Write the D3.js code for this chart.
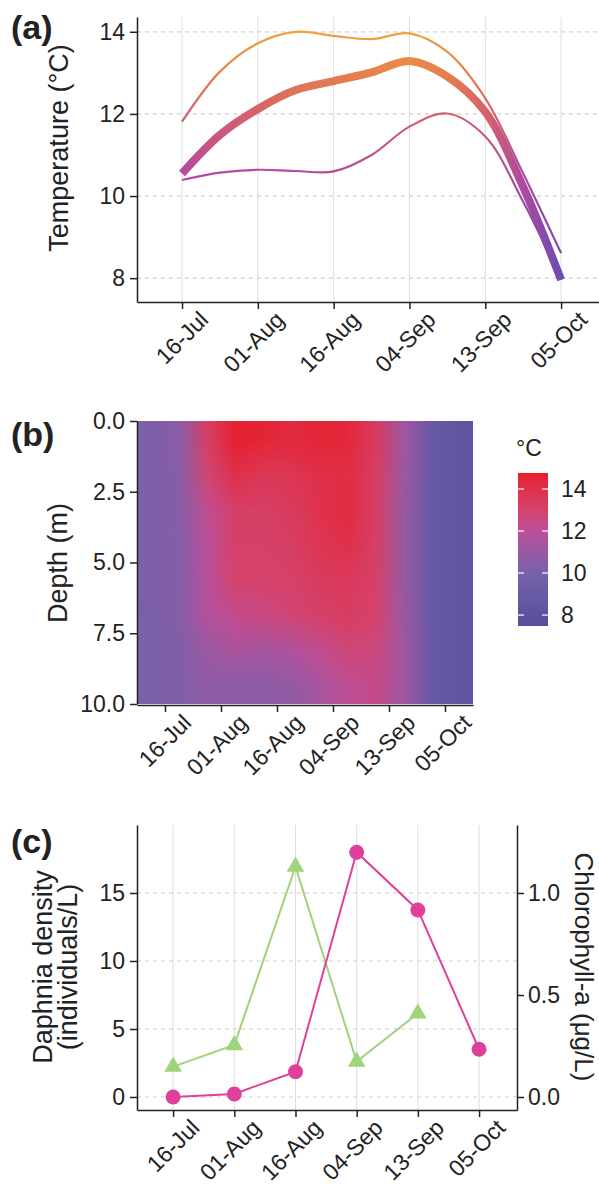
<!DOCTYPE html>
<html>
<head>
<meta charset="utf-8">
<script src="https://cdn.jsdelivr.net/npm/d3@7"></script>
<style>
  body { margin: 0; background: #fff; }
  svg text { font-family: "Liberation Sans", Arial, Helvetica, sans-serif; fill: #222; }
</style>
</head>
<body>
<svg id="chart" width="599" height="1197"></svg>
<script>
// sampling dates (shown as evenly spaced categories)
const dates = ['16-Jul', '01-Aug', '16-Aug', '04-Sep', '13-Sep', '05-Oct'];

// (a) smoothed temperature curves, read every half interval between dates
const tempPos = [0, 0.5, 1, 1.5, 2, 2.5, 3, 3.5, 4, 4.5, 5];
const tempSurface = [11.81, 13.03, 13.72, 14.0, 13.9, 13.82, 13.96, 13.51, 12.38, 10.55, 8.61];
const tempMean = [10.55, 11.49, 12.12, 12.58, 12.8, 13.01, 13.29, 12.91, 12.05, 10.22, 7.96];
const tempBottom = [10.39, 10.57, 10.64, 10.61, 10.6, 11.0, 11.69, 12.01, 11.45, 9.86, 7.96];
const tempTicks = [8, 10, 12, 14];

// (b) depth x date temperature grid (cell centres)
const heatCols = [-0.25, 0.25, 0.75, 1.25, 1.75, 2.25, 2.75, 3.25, 3.75, 4.25, 4.75, 5.25];
const heatDepths = [0.625, 1.875, 3.125, 4.375, 5.625, 6.875, 8.125, 9.375];
const heatValues = [
  [10.2, 10.6, 13.2, 14.7, 14.5, 14.3, 14.5, 14.4, 13.4, 11.2, 8.8, 8.4],
  [10.2, 10.5, 12.8, 14.0, 13.6, 13.7, 14.0, 14.1, 13.3, 11.1, 8.8, 8.4],
  [10.2, 10.5, 12.2, 13.2, 13.2, 13.4, 13.9, 14.2, 13.2, 11.0, 8.7, 8.4],
  [10.2, 10.4, 12.0, 13.1, 13.1, 13.2, 13.7, 14.0, 13.2, 11.0, 8.7, 8.4],
  [10.2, 10.4, 11.9, 13.0, 13.0, 13.1, 13.4, 13.5, 13.1, 11.0, 8.7, 8.4],
  [10.1, 10.4, 11.8, 12.3, 12.5, 12.8, 13.1, 13.3, 13.0, 11.1, 8.7, 8.4],
  [10.1, 10.3, 11.0, 11.5, 11.3, 11.6, 12.2, 12.7, 12.6, 11.2, 8.8, 8.4],
  [10.1, 10.3, 10.7, 10.6, 10.7, 10.8, 11.4, 12.1, 12.4, 11.2, 8.8, 8.4]
];
const depthTicks = [0, 2.5, 5, 7.5, 10];
const legendTicks = [8, 10, 12, 14];

// (c) daphnia (left axis) and chlorophyll-a (right axis)
const daphnia = [2.23, 3.82, 16.93, 2.6, 6.15];
const chlorophyll = [0.0, 0.015, 0.124, 1.2, 0.917, 0.234];
const daphniaTicks = [0, 5, 10, 15];
const chlTicks = [0, 0.5, 1.0];

const svg = d3.select('#chart');
const axisColor = '#222';
const gridColor = '#dedede';
const tickFont = 23;
const titleFont = 27;

const lineColor = d3.scaleLinear()
  .domain([8, 10.5, 12, 13, 14])
  .range(['#6a4db2', '#b449a0', '#d6606c', '#e8814b', '#f0a23e'])
  .clamp(true);

const heatColor = d3.scaleLinear()
  .domain([7.5, 8, 10, 12, 13, 14, 14.8])
  .range(['#574e9c', '#5c52a0', '#7762aa', '#bb4f9b', '#d5436c', '#e0304a', '#e61f2b'])
  .clamp(true);

function styleAxis(g) {
  g.select('.domain').attr('stroke', axisColor).attr('stroke-width', 1.5);
  g.selectAll('.tick line').attr('stroke', axisColor).attr('stroke-width', 1.5);
  g.selectAll('.tick text').style('font-size', tickFont + 'px').attr('fill', axisColor);
}

function rotateLabels(g) {
  g.selectAll('.tick text')
    .attr('text-anchor', 'end')
    .attr('transform', 'translate(10,2) rotate(-45)')
    .attr('dy', '0.71em')
    .attr('x', 0).attr('y', 8);
}

function panelLabel(txt, y) {
  svg.append('text').attr('x', 11).attr('y', y)
    .style('font-size', '34px').style('font-weight', 'bold').text(txt);
}

function vTitle(x, y, lines, angle) {
  const t = svg.append('text')
    .attr('transform', `translate(${x},${y}) rotate(${angle})`)
    .attr('text-anchor', 'middle')
    .style('font-size', titleFont + 'px');
  lines.forEach((s, i) => {
    t.append('tspan').attr('x', 0).attr('dy', i === 0 ? 0 : 24.5).text(s);
  });
}

// ---------------- (a) ----------------
const xA = d3.scaleLinear().domain([-0.594, 5.5]).range([137, 599]);
const yA = d3.scaleLinear().domain([7.42, 14.36]).range([302, 17]);

svg.append('g').selectAll('line').data(d3.range(dates.length)).join('line')
  .attr('x1', d => xA(d)).attr('x2', d => xA(d))
  .attr('y1', yA.range()[1]).attr('y2', yA.range()[0])
  .attr('stroke', gridColor).attr('stroke-width', 1);
svg.append('g').selectAll('line').data(tempTicks).join('line')
  .attr('x1', xA.range()[0]).attr('x2', xA.range()[1])
  .attr('y1', d => yA(d)).attr('y2', d => yA(d))
  .attr('stroke', '#cfcfcf').attr('stroke-width', 1.2).attr('stroke-dasharray', '4,4');

const defs = svg.append('defs');
const lineA = d3.line().x(d => xA(d[0])).y(d => yA(d[1])).curve(d3.curveCatmullRom.alpha(0.5));

[[tempSurface, 2.2, 'gSurf'], [tempBottom, 2.2, 'gBot'], [tempMean, 8, 'gMean']].forEach(([vals, w, id]) => {
  const grad = defs.append('linearGradient').attr('id', id)
    .attr('gradientUnits', 'userSpaceOnUse')
    .attr('x1', xA(tempPos[0])).attr('x2', xA(tempPos[tempPos.length - 1]))
    .attr('y1', 0).attr('y2', 0);
  tempPos.forEach((p, i) => {
    grad.append('stop').attr('offset', p / tempPos[tempPos.length - 1])
      .attr('stop-color', lineColor(vals[i]));
  });
  svg.append('path')
    .datum(tempPos.map((p, i) => [p, vals[i]]))
    .attr('d', lineA)
    .attr('fill', 'none')
    .attr('stroke', `url(#${id})`)
    .attr('stroke-width', w)
    .attr('stroke-linecap', 'butt');
});

svg.append('g').attr('transform', `translate(${xA.range()[0]},0)`)
  .call(d3.axisLeft(yA).tickValues(tempTicks).tickFormat(d3.format('d'))
    .tickSize(7).tickSizeOuter(0).tickPadding(5))
  .call(styleAxis);
svg.append('g').attr('transform', `translate(0,${yA.range()[0]})`)
  .call(d3.axisBottom(xA).tickValues(d3.range(dates.length)).tickFormat(i => dates[i])
    .tickSize(7).tickSizeOuter(0))
  .call(styleAxis).call(rotateLabels);

panelLabel('(a)', 39);
vTitle(68, 148, ['Temperature (°C)'], -90);

// ---------------- (b) ----------------
const xB = d3.scaleLinear().domain([-0.5, 5.5]).range([137, 473]);
const yB = d3.scaleLinear().domain([0, 10]).range([421, 704]);

const cv = document.createElement('canvas');
cv.width = heatCols.length; cv.height = heatDepths.length;
const ctx = cv.getContext('2d');
heatValues.forEach((row, r) => row.forEach((v, c) => {
  ctx.fillStyle = heatColor(v);
  ctx.fillRect(c, r, 1, 1);
}));
svg.append('image')
  .attr('href', cv.toDataURL())
  .attr('x', xB(-0.5)).attr('y', yB(0))
  .attr('width', xB(5.5) - xB(-0.5)).attr('height', yB(10) - yB(0))
  .attr('preserveAspectRatio', 'none');

svg.append('g').attr('transform', `translate(${xB.range()[0]},0)`)
  .call(d3.axisLeft(yB).tickValues(depthTicks).tickFormat(d3.format('.1f'))
    .tickSize(7).tickSizeOuter(0).tickPadding(5))
  .call(styleAxis);
svg.append('g').attr('transform', `translate(0,${yB.range()[1] + 1})`)
  .call(d3.axisBottom(xB).tickValues(d3.range(dates.length)).tickFormat(i => dates[i])
    .tickSize(7).tickSizeOuter(0))
  .call(styleAxis).call(rotateLabels);

panelLabel('(b)', 446);
vTitle(67, 563, ['Depth (m)'], -90);

// legend
const yL = d3.scaleLinear().domain([7.48, 14.76]).range([626, 473]);
const lg = defs.append('linearGradient').attr('id', 'legGrad')
  .attr('x1', 0).attr('x2', 0).attr('y1', 1).attr('y2', 0);
heatColor.domain().forEach(v => {
  lg.append('stop')
    .attr('offset', (v - yL.domain()[0]) / (yL.domain()[1] - yL.domain()[0]))
    .attr('stop-color', heatColor(v));
});
svg.append('rect').attr('x', 518).attr('y', yL.range()[1])
  .attr('width', 30).attr('height', yL.range()[0] - yL.range()[1])
  .attr('fill', 'url(#legGrad)');
const lt = svg.append('g').selectAll('g').data(legendTicks).join('g');
lt.append('line').attr('x1', 518).attr('x2', 524).attr('y1', d => yL(d)).attr('y2', d => yL(d))
  .attr('stroke', '#fff').attr('stroke-width', 1.2);
lt.append('line').attr('x1', 542).attr('x2', 548).attr('y1', d => yL(d)).attr('y2', d => yL(d))
  .attr('stroke', '#fff').attr('stroke-width', 1.2);
lt.append('text').attr('x', 561).attr('y', d => yL(d)).attr('dy', '0.36em')
  .style('font-size', tickFont + 'px').text(d => d);
svg.append('text').attr('x', 516).attr('y', 456).style('font-size', '23px').text('°C');

// ---------------- (c) ----------------
const xC = d3.scaleLinear().domain([-0.59, 5.62]).range([137, 517]);
const yC = d3.scaleLinear().domain([-0.956, 20.0]).range([1110, 825]);
const yC2 = d3.scaleLinear().domain([-0.956 / 15, 20.0 / 15]).range([1110, 825]);

svg.append('g').selectAll('line').data(d3.range(dates.length)).join('line')
  .attr('x1', d => xC(d)).attr('x2', d => xC(d))
  .attr('y1', yC.range()[1]).attr('y2', yC.range()[0])
  .attr('stroke', gridColor).attr('stroke-width', 1);
svg.append('g').selectAll('line').data(daphniaTicks).join('line')
  .attr('x1', xC.range()[0]).attr('x2', xC.range()[1])
  .attr('y1', d => yC(d)).attr('y2', d => yC(d))
  .attr('stroke', '#cfcfcf').attr('stroke-width', 1.2).attr('stroke-dasharray', '4,4');

const green = '#9fd37c';
const pink = '#e0409a';

svg.append('path').datum(daphnia)
  .attr('d', d3.line().x((d, i) => xC(i)).y(d => yC(d)))
  .attr('fill', 'none').attr('stroke', green).attr('stroke-width', 2);
svg.append('path').datum(chlorophyll)
  .attr('d', d3.line().x((d, i) => xC(i)).y(d => yC2(d)))
  .attr('fill', 'none').attr('stroke', pink).attr('stroke-width', 2);

svg.append('g').selectAll('path').data(daphnia).join('path')
  .attr('d', d3.symbol(d3.symbolTriangle, 135))
  .attr('transform', (d, i) => `translate(${xC(i)},${yC(d)})`)
  .attr('fill', green);
svg.append('g').selectAll('circle').data(chlorophyll).join('circle')
  .attr('cx', (d, i) => xC(i)).attr('cy', d => yC2(d)).attr('r', 7.5)
  .attr('fill', pink);

svg.append('g').attr('transform', `translate(${xC.range()[0]},0)`)
  .call(d3.axisLeft(yC).tickValues(daphniaTicks).tickSize(7).tickSizeOuter(0).tickPadding(5))
  .call(styleAxis);
svg.append('g').attr('transform', `translate(${xC.range()[1]},0)`)
  .call(d3.axisRight(yC2).tickValues(chlTicks).tickFormat(d3.format('.1f'))
    .tickSize(7).tickSizeOuter(0).tickPadding(4))
  .call(styleAxis);
svg.append('g').attr('transform', `translate(0,${yC.range()[0]})`)
  .call(d3.axisBottom(xC).tickValues(d3.range(dates.length)).tickFormat(i => dates[i])
    .tickSize(7).tickSizeOuter(0))
  .call(styleAxis).call(rotateLabels);

panelLabel('(c)', 853);
vTitle(52, 967, ['Daphnia density', '(individuals/L)'], -90);
svg.append('text')
  .attr('transform', `translate(575,967) rotate(90)`)
  .attr('text-anchor', 'middle')
  .style('font-size', '26px')
  .text('Chlorophyll-a (μg/L)');
</script>
</body>
</html>
